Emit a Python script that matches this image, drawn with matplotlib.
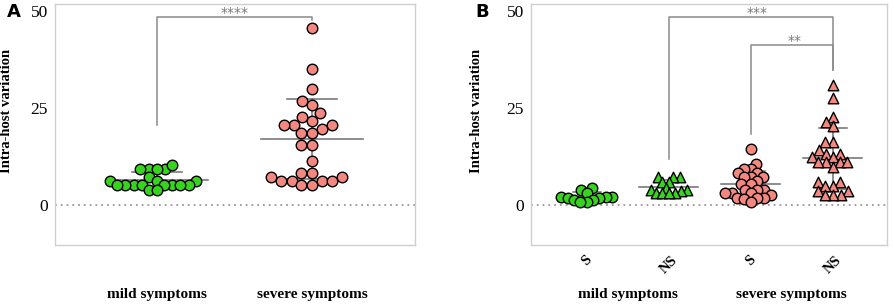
import numpy as np
import matplotlib
matplotlib.use("Agg")
import matplotlib.pyplot as plt

# ---------------- data ----------------
panel_a_groups = ["mild symptoms", "severe symptoms"]
a_mild = [9.3, 9.3, 9.3, 9.3, 10.4, 7.1, 6.2, 6.2, 6.2,
          5.15, 5.15, 5.15, 5.15, 5.15, 5.15, 5.15, 5.15, 4.0, 4.0]
a_severe = [45.5, 35.1, 29.9, 26.9, 25.8, 23.6, 22.7, 21.7, 20.6, 20.6, 20.6,
            19.7, 18.6, 18.6, 15.5, 15.5, 11.3, 8.2, 8.2, 7.2, 7.2,
            6.2, 6.2, 6.2, 6.2, 5.2, 5.2]

b_ticklabels = ["S", "NS", "S", "NS"]
b_groups = ["mild symptoms", "severe symptoms"]
b_mild_s = [4.3, 4.0, 3.2, 2.1, 2.1, 2.0, 1.9, 1.9, 1.3, 1.3, 0.9, 0.9]
b_mild_ns = [7.1, 7.1, 7.1, 6.0, 6.0, 4.5, 3.9, 3.9, 3.5, 3.0, 3.0, 3.0, 3.0]
b_severe_s = [14.4, 10.5, 9.3, 9.3, 8.3, 8.3, 7.3, 7.3, 7.3, 6.3, 5.5, 5.3,
              4.0, 4.0, 4.0, 3.2, 3.2, 3.0, 2.5, 1.9, 1.9, 1.9, 1.5, 0.9]
b_severe_ns = [31.0, 27.7, 22.6, 21.3, 20.4, 16.3, 16.3, 14.3, 13.1, 13.1,
               12.3, 12.3, 11.0, 11.0, 11.0, 11.0, 9.9, 6.0, 6.0, 5.0, 5.0,
               3.6, 3.6, 2.7, 2.7, 2.7]

yticks = [0, 25, 50]
ylabel = "Intra-host variation"

GREEN = "#36d41c"
PINK = "#f4877f"
GRAY = "#8a8a8a"
SERIF = ["Liberation Serif", "DejaVu Serif"]

fig = plt.figure(figsize=(8.94, 3.06), dpi=100)
W, H = 894, 306


def add_axes(l, r, b, t):
    return fig.add_axes([l / W, 1 - b / H, (r - l) / W, (b - t) / H])


def style(ax):
    for s in ax.spines.values():
        s.set_color("#cfcfcf")
        s.set_linewidth(1.0)
    ax.set_ylim(-10.3, 51.8)
    ax.set_yticks(yticks)
    ax.set_yticklabels([str(v) for v in yticks], fontfamily=SERIF, fontsize=12.5)
    ax.tick_params(axis="y", length=0, pad=5)
    ax.tick_params(axis="x", length=0)
    ax.axhline(0, color="#999999", lw=1.3, ls=(0, (1, 2.2)), zorder=1)
    ax.set_ylabel(ylabel, fontfamily=SERIF, fontweight="bold", fontsize=10.5)


def swarm(ax, xc, ys, d):
    ys = np.asarray(ys, float)
    pts = ax.transData.transform(np.column_stack([np.full(len(ys), xc), ys]))
    px0 = pts[0, 0]
    py = pts[:, 1]
    order = np.argsort(py)
    placed = []
    xs = np.zeros(len(ys))
    for i in order:
        cands = [0.0]
        for (xj, yj) in placed:
            dy = py[i] - yj
            if abs(dy) < d:
                dx = np.sqrt(d * d - dy * dy)
                cands += [xj + dx, xj - dx]
        cands = sorted(cands, key=lambda c: (abs(c), c))
        for c in cands:
            ok = True
            for (xj, yj) in placed:
                if (c - xj) ** 2 + (py[i] - yj) ** 2 < d * d - 1e-6:
                    ok = False
                    break
            if ok:
                break
        placed.append((c, py[i]))
        xs[i] = c
    back = ax.transData.inverted().transform(np.column_stack([px0 + xs, py]))
    return back[:, 0]


def mean_sd(ax, xc, ys, wmean, wsd):
    m = np.mean(ys)
    sd = np.std(ys, ddof=1)
    kw = dict(color="#6e6e6e", lw=1.1, zorder=2)
    ax.plot([xc - wmean / 2, xc + wmean / 2], [m, m], **kw)
    ax.plot([xc, xc], [m - sd, m + sd], **kw)
    ax.plot([xc - wsd / 2, xc + wsd / 2], [m + sd, m + sd], **kw)
    ax.plot([xc - wsd / 2, xc + wsd / 2], [m - sd, m - sd], **kw)


MS = 7.6
D = MS * 100 / 72


def draw(ax, xc, ys, color, marker, overlap):
    xs = swarm(ax, xc, ys, D * overlap)
    ax.scatter(xs, ys, s=MS ** 2, c=color, edgecolors="black", linewidths=1.0,
               marker=marker, zorder=3)


# ---------------- Panel A ----------------
axA = add_axes(55, 415, 245, 4)
style(axA)
axA.set_xlim(-0.657, 1.664)
axA.set_xticks([])
for i, g in enumerate(panel_a_groups):
    axA.text(i, -0.18, g, transform=axA.get_xaxis_transform(), ha="center",
             va="top", fontfamily=SERIF, fontweight="bold", fontsize=11)
mean_sd(axA, 0, a_mild, 0.66, 0.32)
mean_sd(axA, 1, a_severe, 0.66, 0.32)
draw(axA, 0, a_mild, GREEN, "o", 0.78)
draw(axA, 1, a_severe, PINK, "o", 1.0)
axA.plot([0, 0, 1, 1], [20.6, 48.4, 48.4, 47.8], color=GRAY, lw=1.1, zorder=2)
axA.text(0.5, 51.2, "****", ha="center", va="top", color="#7a7a7a", fontsize=10)
axA.yaxis.set_label_coords(-0.117, 0.556)
fig.text(7 / W, 1 - 12 / H, "A", fontweight="bold", fontsize=13,
         ha="left", va="center", fontfamily="DejaVu Sans")

# ---------------- Panel B ----------------
axB = add_axes(531, 887, 245, 4)
style(axB)
axB.set_xlim(-0.68, 3.66)
axB.set_xticks(range(4))
axB.set_xticklabels(b_ticklabels, rotation=45, fontfamily=SERIF,
                    fontweight="bold", fontsize=10.5, ha="center", va="top")
axB.tick_params(axis="x", pad=6)
for i, g in enumerate(b_groups):
    axB.text(2 * i + 0.5, -0.18, g, transform=axB.get_xaxis_transform(),
             ha="center", va="top", fontfamily=SERIF, fontweight="bold", fontsize=11)
groups = [(b_mild_s, GREEN, "o", 0.62), (b_mild_ns, GREEN, "^", 0.6),
          (b_severe_s, PINK, "o", 0.68), (b_severe_ns, PINK, "^", 0.75)]
for i, (ys, c, m, ov) in enumerate(groups):
    mean_sd(axB, i, ys, 0.72, 0.34)
for i, (ys, c, m, ov) in enumerate(groups):
    draw(axB, i, ys, c, m, ov)
axB.plot([1, 1, 3, 3], [11.8, 48.4, 48.4, 34.8], color=GRAY, lw=1.1, zorder=2)
axB.plot([2, 2, 3, 3], [18.2, 41.2, 41.2, 34.8], color=GRAY, lw=1.1, zorder=2)
axB.text(2.07, 51.2, "***", ha="center", va="top", color="#7a7a7a", fontsize=10)
axB.text(2.53, 44.0, "**", ha="center", va="top", color="#7a7a7a", fontsize=10)
axB.yaxis.set_label_coords(-0.135, 0.556)
fig.text(475 / W, 1 - 12 / H, "B", fontweight="bold", fontsize=13,
         ha="left", va="center", fontfamily="DejaVu Sans")

fig.savefig("out.png", dpi=100)
